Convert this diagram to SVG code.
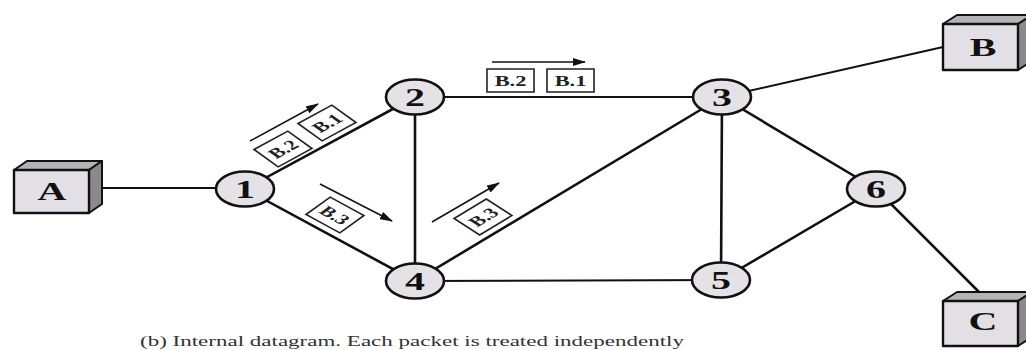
<svg xmlns="http://www.w3.org/2000/svg" width="1026" height="350" viewBox="0 0 1026 350">
<style>
.edge{stroke:#111;stroke-width:2.6;fill:none;stroke-linecap:round}
.thin{stroke-width:2}
.node{fill:#e4e2e6;stroke:#111;stroke-width:2.6}
.lbl{font-family:'Liberation Serif','DejaVu Serif',serif;font-weight:bold;font-size:25px;fill:#111;text-anchor:middle}
.front{fill:#e2e0e4;stroke:#111;stroke-width:2.4;stroke-linejoin:round}
.top{fill:#b4b4b4;stroke:#111;stroke-width:2;stroke-linejoin:round}
.side{fill:#8a8a8a;stroke:#111;stroke-width:2;stroke-linejoin:round}
.pkt{fill:#fff;stroke:#222;stroke-width:1.6;vector-effect:non-scaling-stroke}
.ptxt{font-family:'Liberation Serif','DejaVu Serif',serif;font-weight:bold;font-size:14px;fill:#222;text-anchor:middle}
.arr{stroke:#111;stroke-width:1.5;fill:none;marker-end:url(#ah)}
.cap{font-family:'Liberation Serif','DejaVu Serif',serif;font-size:15px;fill:#333}
</style>
<defs>
<marker id="ah" markerWidth="13" markerHeight="8" refX="12" refY="4" orient="auto" markerUnits="userSpaceOnUse">
<path d="M0,0 L13,4 L0,8 z" fill="#111"/>
</marker>
</defs>
<rect width="1026" height="350" fill="#fff"/>
<g id="connectors">
<line class="edge thin" x1="102" y1="188" x2="216" y2="188"/>
<line class="edge" x1="245" y1="189" x2="415" y2="97"/>
<line class="edge" x1="245" y1="189" x2="415" y2="281"/>
<line class="edge" x1="415" y1="97" x2="415" y2="281"/>
<line class="edge thin" x1="415" y1="97" x2="722" y2="97"/>
<line class="edge" x1="415" y1="281" x2="722" y2="97"/>
<line class="edge thin" x1="415" y1="281" x2="721" y2="280"/>
<line class="edge" x1="722" y1="97" x2="721" y2="280"/>
<line class="edge" x1="722" y1="97" x2="876" y2="189"/>
<line class="edge" x1="721" y1="280" x2="876" y2="189"/>
<line class="edge thin" x1="722" y1="97" x2="943" y2="47"/>
<line class="edge" x1="876" y1="189" x2="979" y2="292"/>
</g>
<g id="packets">
<g transform="translate(283,149) scale(1.6,1) rotate(-41)"><rect class="pkt" x="-14" y="-11.5" width="28" height="23"/><text class="ptxt" y="5" font-family="Liberation Serif, DejaVu Serif, serif">B.2</text></g>
<g transform="translate(327,123) scale(1.6,1) rotate(-41)"><rect class="pkt" x="-14" y="-11.5" width="28" height="23"/><text class="ptxt" y="5" font-family="Liberation Serif, DejaVu Serif, serif">B.1</text></g>
<g transform="translate(335,215) scale(1.6,1) rotate(41)"><rect class="pkt" x="-14" y="-11.5" width="28" height="23"/><text class="ptxt" y="5" font-family="Liberation Serif, DejaVu Serif, serif">B.3</text></g>
<g transform="translate(483,217) scale(1.6,1) rotate(-44)"><rect class="pkt" x="-14" y="-11.5" width="28" height="23"/><text class="ptxt" y="5" font-family="Liberation Serif, DejaVu Serif, serif">B.3</text></g>
<g transform="translate(510.5,80.5) scale(1.6,1)"><rect class="pkt" x="-14.7" y="-11.5" width="29.4" height="23"/><text class="ptxt" y="5" font-family="Liberation Serif, DejaVu Serif, serif">B.2</text></g>
<g transform="translate(570.5,80.5) scale(1.6,1)"><rect class="pkt" x="-14.7" y="-11.5" width="29.4" height="23"/><text class="ptxt" y="5" font-family="Liberation Serif, DejaVu Serif, serif">B.1</text></g>
<line class="arr" x1="492" y1="62" x2="585" y2="62"/>
<line class="arr" x1="250" y1="141" x2="318" y2="104"/>
<line class="arr" x1="320" y1="184" x2="392" y2="221"/>
<line class="arr" x1="432" y1="222" x2="499" y2="183"/>
</g>
<g id="A">
<polygon class="top" points="14,170 27,161 102,161 89,170"/>
<polygon class="side" points="89,170 102,161 102,204 89,213"/>
<rect class="front" x="14" y="170" width="75" height="43"/>
<text class="lbl" font-family="Liberation Serif, DejaVu Serif, serif" transform="translate(52,200) scale(1.6,1)">A</text>
</g>
<g id="B">
<polygon class="top" points="943,24 957,15 1032,15 1018,24"/>
<polygon class="side" points="1018,24 1032,15 1032,61 1018,70"/>
<rect class="front" x="943" y="24" width="75" height="46"/>
<text class="lbl" font-family="Liberation Serif, DejaVu Serif, serif" transform="translate(983,56) scale(1.6,1)">B</text>
</g>
<g id="C">
<polygon class="top" points="943,301 957,292 1032,292 1018,301"/>
<polygon class="side" points="1018,301 1032,292 1032,337 1018,346"/>
<rect class="front" x="943" y="301" width="75" height="45"/>
<text class="lbl" font-family="Liberation Serif, DejaVu Serif, serif" transform="translate(983,330) scale(1.6,1)">C</text>
</g>
<g id="n1"><ellipse class="node" cx="245" cy="189" rx="29" ry="17.5"/><text class="lbl" font-family="Liberation Serif, DejaVu Serif, serif" transform="translate(245,197.5) scale(1.6,1)">1</text></g>
<g id="n2"><ellipse class="node" cx="415" cy="97" rx="29" ry="17.5"/><text class="lbl" font-family="Liberation Serif, DejaVu Serif, serif" transform="translate(415,105.5) scale(1.6,1)">2</text></g>
<g id="n3"><ellipse class="node" cx="722" cy="97" rx="29" ry="17.5"/><text class="lbl" font-family="Liberation Serif, DejaVu Serif, serif" transform="translate(722,105.5) scale(1.6,1)">3</text></g>
<g id="n4"><ellipse class="node" cx="415" cy="281" rx="29" ry="17.5"/><text class="lbl" font-family="Liberation Serif, DejaVu Serif, serif" transform="translate(415,289.5) scale(1.6,1)">4</text></g>
<g id="n5"><ellipse class="node" cx="721" cy="280" rx="29" ry="17.5"/><text class="lbl" font-family="Liberation Serif, DejaVu Serif, serif" transform="translate(721,288.5) scale(1.6,1)">5</text></g>
<g id="n6"><ellipse class="node" cx="876" cy="189" rx="29" ry="17.5"/><text class="lbl" font-family="Liberation Serif, DejaVu Serif, serif" transform="translate(876,197.5) scale(1.6,1)">6</text></g>
<text class="cap" font-family="Liberation Serif, DejaVu Serif, serif" transform="translate(140,346) scale(1.6,1)" textLength="340" lengthAdjust="spacingAndGlyphs">(b) Internal datagram. Each packet is treated independently</text>
</svg>
